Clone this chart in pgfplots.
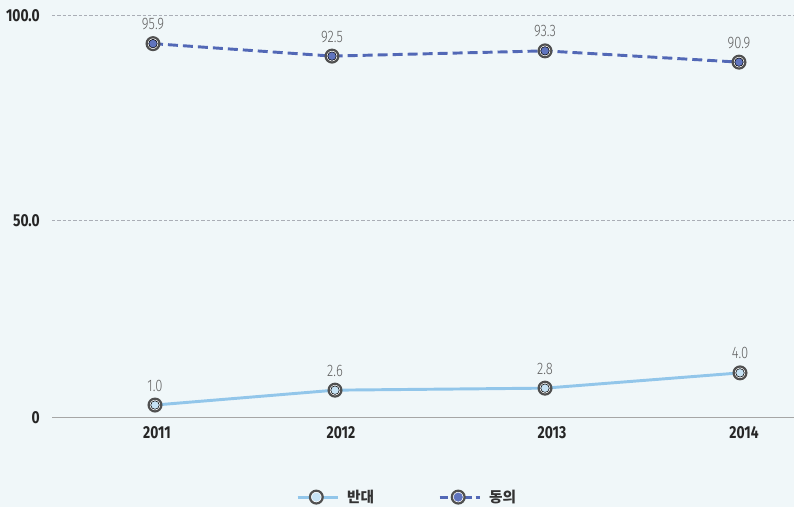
\documentclass[border=0pt]{standalone}
\usepackage{pgfplots}
\pgfplotsset{compat=1.18}
\usepackage{fontspec}
\setmainfont{Fira Sans}
\newfontfamily\numfont{Fira Sans}[FakeStretch=0.8]
\newfontfamily\lightfont{Fira Sans Light}[FakeStretch=0.78]
\newfontfamily\kr{Noto Sans CJK KR}

\definecolor{bg}{RGB}{240,247,249}
\definecolor{agree}{RGB}{82,104,182}
\definecolor{agreefill}{RGB}{96,116,190}
\definecolor{oppose}{RGB}{146,198,234}
\definecolor{opposefill}{RGB}{198,226,244}
\definecolor{ring}{RGB}{80,80,80}
\definecolor{gridc}{RGB}{170,174,182}

\tikzset{
  ringmark/.style={solid, draw=ring, fill=white, line width=1.65pt},
}

\begin{document}
\begin{tikzpicture}
\fill[bg] (0,0) rectangle (595.5pt,380.25pt);
\useasboundingbox (0,0) rectangle (595.5pt,380.25pt);
\begin{axis}[
  at={(39pt,67.125pt)}, anchor=origin,
  scale only axis,
  width=556.5pt, height=301.5pt,
  xmin=52, xmax=794,
  ymin=0, ymax=100,
  clip=false,
  axis line style={draw=none},
  major tick length=0pt,
  ytick={0,48.9,100},
  yticklabels={0,50.0,100.0},
  xtick={157,341,552,744},
  xticklabels={2011,2012,2013,2014},
  tick label style={font=\numfont\bfseries\fontsize{13pt}{15pt}\selectfont, text=black!85},
  yticklabel style={anchor=east, inner sep=0pt, xshift=-9pt},
  xticklabel style={anchor=north, inner sep=0pt, yshift=-6.5pt},
  ymajorgrids=true,
  grid style={gridc, line width=0.8pt, dash pattern=on 2.5pt off 1.5pt},
  nodes near coords,
  point meta=explicit symbolic,
  every node near coord/.style={anchor=south, inner sep=0pt, yshift=9.5pt,
    font=\lightfont\fontsize{12.5pt}{14pt}\selectfont, text=black!62},
  legend columns=2,
  legend style={draw=none, fill=none, at={(0.479,-0.198)}, anchor=center,
    font=\kr\bfseries\fontsize{11pt}{13pt}\selectfont, text=black!80,
    /tikz/every even column/.append style={column sep=46pt},
    /tikz/every odd column/.append style={column sep=4pt}},
]
% legend images
\addlegendimage{legend image code/.code={
  \draw[oppose, line width=2.2pt] (0pt,0pt) -- (30pt,0pt);
  \draw[ringmark] (14pt,0pt) circle (4.8pt);
  \fill[opposefill] (14pt,0pt) circle (3.2pt);}}
\addlegendimage{legend image code/.code={
  \draw[agree, line width=2.2pt, dash pattern=on 6pt off 3pt] (0pt,0pt) -- (30pt,0pt);
  \draw[ringmark] (14pt,0pt) circle (4.8pt);
  \fill[agreefill] (14pt,0pt) circle (3.2pt);}}
% 반대
\addplot[oppose, line width=2.2pt, mark=*, mark size=4.8pt,
  mark options={ringmark}, forget plot] coordinates {
  (155,3.1) [1.0]
  (335,6.8) [2.6]
  (545,7.3) [2.8]
  (740,11.1) [4.0]
};
\addplot[only marks, mark=*, mark size=3.2pt, mark options={draw=none, fill=opposefill},
  nodes near coords={}, forget plot] coordinates {
  (155,3.1) (335,6.8) (545,7.3) (740,11.1)
};
% 동의
\addplot[agree, line width=2.2pt, dash pattern=on 7.5pt off 3.75pt, mark=*, mark size=4.8pt,
  mark options={ringmark}, forget plot] coordinates {
  (153,93.0) [95.9]
  (332,89.9) [92.5]
  (545,91.2) [93.3]
  (739,88.4) [90.9]
};
\addplot[only marks, mark=*, mark size=3.2pt, mark options={draw=none, fill=agreefill},
  nodes near coords={}, forget plot] coordinates {
  (153,93.0) (332,89.9) (545,91.2) (739,88.4)
};
\draw[black!35, line width=0.9pt] (rel axis cs:0,0) -- (rel axis cs:1,0);
\legend{반대,동의}
\end{axis}
\end{tikzpicture}
\end{document}
